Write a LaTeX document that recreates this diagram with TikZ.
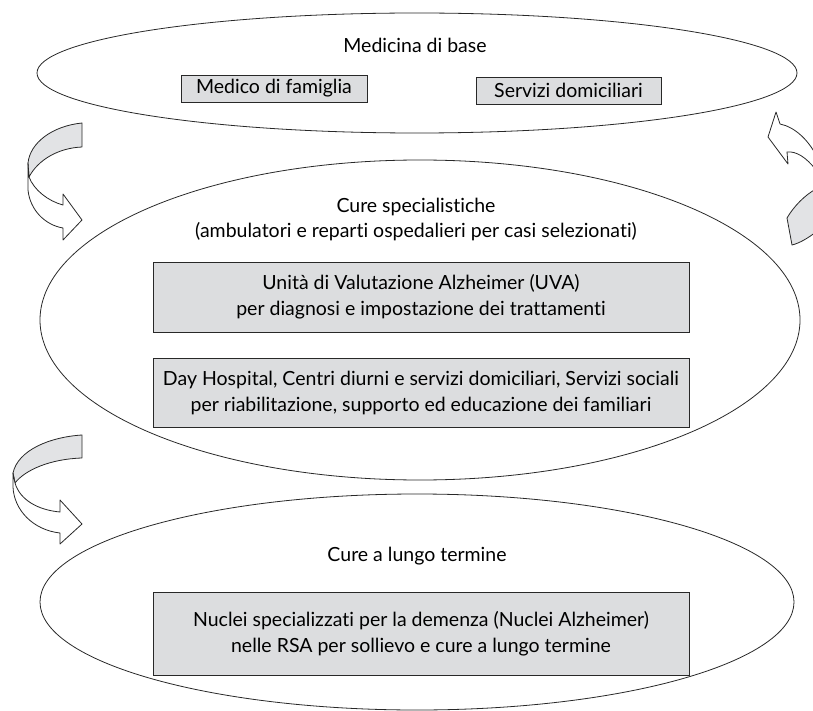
\documentclass[tikz,border=0pt]{standalone}
\usepackage{fontspec}
\setmainfont{Lato}[Ligatures=NoCommon]
\usepackage{tikz}
\usetikzlibrary{positioning}
\definecolor{boxgray}{RGB}{220,221,223}
\definecolor{ribbongray}{RGB}{226,227,229}
\definecolor{linegray}{RGB}{40,40,40}
\tikzset{
    level title/.style={
        align=center,
        font=\fontsize{19.5}{25}\selectfont
    },
    care box/.style={
        draw=linegray,
        fill=boxgray,
        align=center,
        inner sep=0pt,
        line width=0.9pt,
        font=\fontsize{19.5}{26}\selectfont
    }
}

\begin{document}
\begin{tikzpicture}[
    x = 1pt,
    y = -1pt,
    line width = 0.8pt,
    level ring/.style = {draw=linegray},
    ribbon/.style = {draw=linegray, line join=round}
]
% Page frame (pixel grid of the reference)
\clip (0,0) rectangle (813,711);

% The three levels of care
\draw[level ring] (417,73) ellipse [x radius=380pt, y radius=60pt];
\draw[level ring] (420,320) ellipse [x radius=380pt, y radius=160pt];
\draw[level ring] (417,602) ellipse [x radius=377pt, y radius=108pt];

% Level titles
\node[level title] (base) at (415,45) {Medicina di base};
\node[level title] (spec) at (416,219) {Cure specialistiche\\(ambulatori e reparti ospedalieri per casi selezionati)};
\node[level title] (lungo) at (417,556) {Cure a lungo termine};

% Services inside each level
\node[care box, minimum width=186pt, minimum height=27pt] (medico) at (274,88.5) {Medico di famiglia};
\node[care box, minimum width=185pt, minimum height=27pt] (domic) at (568.5,90.5) {Servizi domiciliari};
\node[care box, minimum width=536pt, minimum height=70pt] (uva) at (421,297) {Unità di Valutazione Alzheimer (UVA)\\per diagnosi e impostazione dei trattamenti};
\node[care box, minimum width=536pt, minimum height=69pt] (dayh) at (421,392.5) {Day Hospital, Centri diurni e servizi domiciliari, Servizi sociali\\per riabilitazione, supporto ed educazione dei familiari};
\node[care box, minimum width=536pt, minimum height=83pt] (nuclei) at (421,633.5) {Nuclei specializzati per la demenza (Nuclei Alzheimer)\\nelle RSA per sollievo e cure a lungo termine};

% Turning arrow: base -> specialistic
\filldraw[ribbon, fill=ribbongray] (82,123) .. controls (52,126) and (30,143) .. (28,163)
    -- (29,177) .. controls (38,160) and (58,148) .. (82,147) -- cycle;
\filldraw[ribbon, fill=white] (28,163) -- (28,190) .. controls (30,210) and (45,225) .. (63,228)
    -- (63,240) -- (82,220) -- (63,194) -- (63,205) .. controls (48,201) and (34,190) .. (29,177) -- cycle;

% Turning arrow: specialistic -> long term
\filldraw[ribbon, fill=ribbongray] (82,435) .. controls (50,437) and (18,450) .. (13,473)
    -- (15,483) .. controls (25,470) and (50,459) .. (82,458) -- cycle;
\filldraw[ribbon, fill=white] (13,473) -- (13,487) .. controls (14,510) and (33,530) .. (60,533)
    -- (60,544) -- (82,524) -- (60,500) -- (60,512) .. controls (38,510) and (20,500) .. (15,483) -- cycle;

% Turning arrow: specialistic -> base (right side)
\filldraw[ribbon, fill=ribbongray] (787,218) .. controls (794,206) and (805,195) .. (816,189)
    -- (822,189) -- (822,232) -- (816,232) .. controls (808,238) and (800,243) .. (792,245) -- cycle;
\filldraw[ribbon, fill=white] (776,112) -- (768,137) -- (788,164) -- (787,152)
    .. controls (796,151) and (806,157) .. (816,170) -- (822,170) -- (822,155) -- (816,155)
    .. controls (808,140) and (795,127) .. (780,124) -- cycle;

\end{tikzpicture}
\end{document}
